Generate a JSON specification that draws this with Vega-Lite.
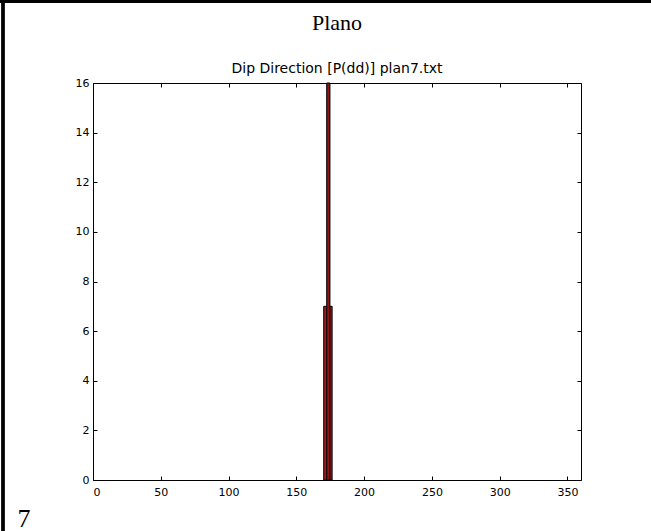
{
  "$schema": "https://vega.github.io/schema/vega-lite/v6.json",
  "width": 488,
  "height": 397,
  "autosize": {"type": "none"},
  "padding": {"left": 93, "top": 83, "right": 70, "bottom": 51},
  "background": "white",
  "title": {
    "text": "Plano",
    "subtitle": "Dip Direction [P(dd)] plan7.txt",
    "font": "Liberation Serif",
    "fontSize": 22,
    "fontWeight": "normal",
    "color": "black",
    "subtitleFont": "DejaVu Sans",
    "subtitleFontSize": 14,
    "subtitleColor": "black",
    "subtitlePadding": 27,
    "offset": 5,
    "dy": 85,
    "anchor": "middle"
  },
  "config": {
    "view": {"stroke": "black", "strokeWidth": 1},
    "axis": {
      "grid": false,
      "domain": false,
      "tickColor": "black",
      "tickSize": -4,
      "labelFont": "DejaVu Sans",
      "labelFontSize": 11,
      "labelColor": "black"
    }
  },
  "data": {
    "values": [
      {"start": 170.2, "end": 173.3, "count": 7, "series": "bins"},
      {"start": 173.3, "end": 176.4, "count": 7, "series": "bins"},
      {"start": 172.4, "end": 174.8, "count": 16, "series": "peak"}
    ]
  },
  "layer": [
    {
      "mark": {"type": "bar", "stroke": "black", "strokeWidth": 1},
      "encoding": {
        "x": {
          "field": "start",
          "type": "quantitative",
          "scale": {"domain": [0, 360], "nice": false, "zero": false},
          "axis": {
            "orient": "bottom",
            "values": [0, 50, 100, 150, 200, 250, 300, 350],
            "labelPadding": 10,
            "title": "7",
            "titleFont": "Liberation Serif",
            "titleFontSize": 26,
            "titleFontWeight": "normal",
            "titleColor": "black",
            "titleAnchor": "start",
            "titleAlign": "left",
            "titleBaseline": "alphabetic",
            "titleX": -76,
            "titleY": 46
          }
        },
        "x2": {"field": "end"},
        "y": {
          "field": "count",
          "type": "quantitative",
          "scale": {"domain": [0, 16], "nice": false},
          "axis": {
            "orient": "left",
            "values": [0, 2, 4, 6, 8, 10, 12, 14, 16],
            "labelPadding": 8,
            "title": null
          }
        },
        "y2": {"datum": 0},
        "color": {
          "field": "series",
          "type": "nominal",
          "scale": {"domain": ["bins", "peak"], "range": ["#a31a1a", "#8a1616"]},
          "legend": null
        }
      }
    },
    {
      "mark": {"type": "rule", "opacity": 0},
      "encoding": {
        "x": {
          "field": "start",
          "type": "quantitative",
          "axis": {"orient": "top", "values": [0, 50, 100, 150, 200, 250, 300, 350], "labels": false, "title": null}
        },
        "y": {
          "field": "count",
          "type": "quantitative",
          "axis": {"orient": "right", "values": [0, 2, 4, 6, 8, 10, 12, 14, 16], "labels": false, "title": null}
        }
      }
    },
    {
      "mark": {"type": "rule", "color": "black", "strokeWidth": 3, "clip": false},
      "encoding": {
        "x": {"datum": -68.6, "type": "quantitative", "axis": null},
        "x2": {"datum": 411.6},
        "y": {"datum": 19.28, "type": "quantitative", "axis": null}
      }
    },
    {
      "mark": {"type": "rule", "color": "black", "strokeWidth": 3, "clip": false},
      "encoding": {
        "x": {"datum": -66.4, "type": "quantitative", "axis": null},
        "y": {"datum": 19.4, "type": "quantitative", "axis": null},
        "y2": {"datum": -2.1}
      }
    }
  ],
  "resolve": {"axis": {"x": "independent", "y": "independent"}}
}
